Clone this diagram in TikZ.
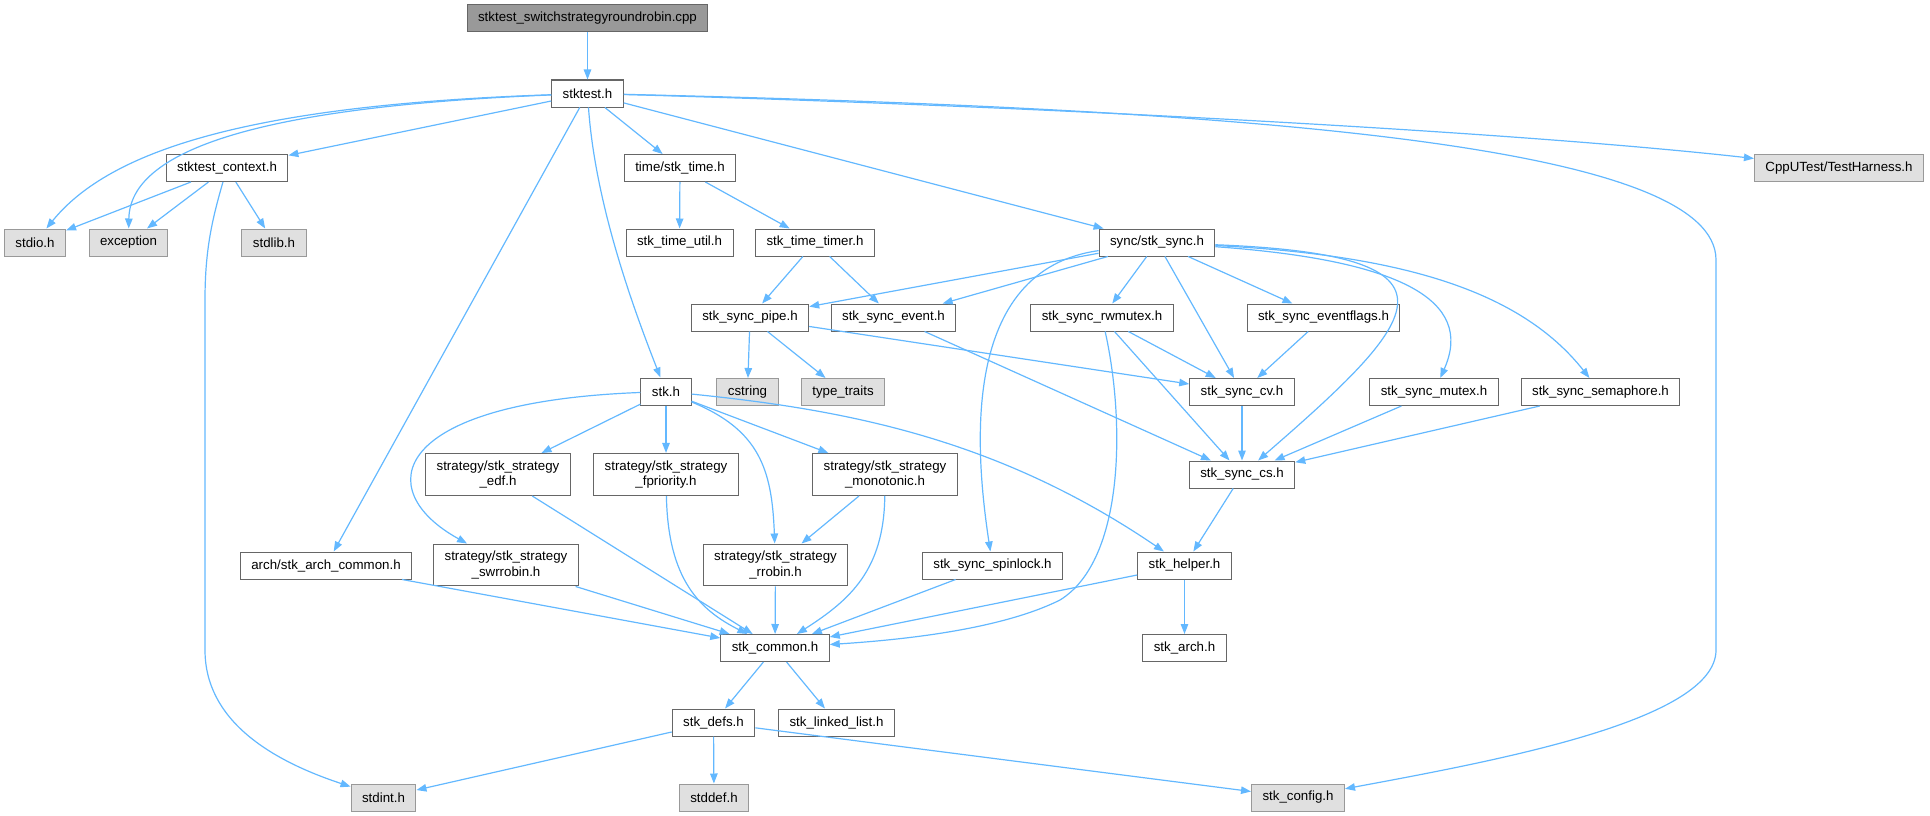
\documentclass[tikz,border=0pt]{standalone}
\usepackage{fontspec}
\setmainfont{Liberation Sans}
\usetikzlibrary{arrows.meta}
\definecolor{edgeblue}{HTML}{63B8FF}
\definecolor{boxline}{HTML}{666666}
\definecolor{sysline}{HTML}{999999}
\definecolor{sysfill}{HTML}{E0E0E0}
\definecolor{rootfill}{HTML}{999999}
\tikzset{
    hdr/.style = {draw=boxline,fill=white,line width=1pt,inner xsep=11pt,inner ysep=7pt,
        minimum height=27pt,align=center,font=\fontsize{13.3}{15.7}\selectfont},
    syshdr/.style = {hdr,draw=sysline,fill=sysfill},
    roothdr/.style = {hdr,fill=rootfill},
    inc/.style = {draw=edgeblue,line width=1.2pt,-{Triangle[length=10pt,width=7.5pt]}}
}
\begin{document}
\begin{tikzpicture}[x=1pt,y=-1pt]
        \useasboundingbox (0,0) rectangle (1930,816);
        % Files
        \node[roothdr] (root) at (587.5,18.5) {stktest\_switchstrategyroundrobin.cpp};
        \node[hdr] (stktest) at (587.5,93.5) {stktest.h};
        \node[hdr] (ctx) at (227,168) {stktest\_context.h};
        \node[hdr] (stktime) at (680,168) {time/stk\_time.h};
        \node[syshdr] (cpputest) at (1839,168) {CppUTest/TestHarness.h};
        \node[syshdr] (stdio) at (35,242.5) {stdio.h};
        \node[syshdr] (exception) at (128.5,242.5) {exception};
        \node[syshdr] (stdlib) at (274,242.5) {stdlib.h};
        \node[hdr] (timeutil) at (679.5,242.5) {stk\_time\_util.h};
        \node[hdr] (timer) at (815,242.5) {stk\_time\_timer.h};
        \node[hdr] (sync) at (1157,242.5) {sync/stk\_sync.h};
        \node[hdr] (pipe) at (750,317.5) {stk\_sync\_pipe.h};
        \node[hdr] (event) at (893.5,317.5) {stk\_sync\_event.h};
        \node[hdr] (rwmutex) at (1102,317.5) {stk\_sync\_rwmutex.h};
        \node[hdr] (evflags) at (1323.5,317.5) {stk\_sync\_eventflags.h};
        \node[hdr] (stk) at (666,391.5) {stk.h};
        \node[syshdr] (cstring) at (747.5,392) {cstring};
        \node[syshdr] (typetraits) at (843,392) {type\_traits};
        \node[hdr] (cv) at (1242,392) {stk\_sync\_cv.h};
        \node[hdr] (mutex) at (1434,392) {stk\_sync\_mutex.h};
        \node[hdr] (sema) at (1600.5,392) {stk\_sync\_semaphore.h};
        \node[hdr] (edf) at (498,474.5) {strategy/stk\_strategy\\\_edf.h};
        \node[hdr] (fprio) at (666,474.5) {strategy/stk\_strategy\\\_fpriority.h};
        \node[hdr] (mono) at (885,474.5) {strategy/stk\_strategy\\\_monotonic.h};
        \node[hdr] (cs) at (1242,474.5) {stk\_sync\_cs.h};
        \node[hdr] (archcommon) at (326,565.5) {arch/stk\_arch\_common.h};
        \node[hdr] (swrr) at (506,565) {strategy/stk\_strategy\\\_swrrobin.h};
        \node[hdr] (rrobin) at (775.5,565) {strategy/stk\_strategy\\\_rrobin.h};
        \node[hdr] (spinlock) at (992.5,565.5) {stk\_sync\_spinlock.h};
        \node[hdr] (helper) at (1184.5,565.5) {stk\_helper.h};
        \node[hdr] (common) at (775,648) {stk\_common.h};
        \node[hdr] (arch) at (1184.5,648) {stk\_arch.h};
        \node[hdr] (defs) at (713.5,722.5) {stk\_defs.h};
        \node[hdr] (linked) at (836.5,722.5) {stk\_linked\_list.h};
        \node[syshdr] (stdint) at (383.5,797.5) {stdint.h};
        \node[syshdr] (stddef) at (714,797.5) {stddef.h};
        \node[syshdr] (config) at (1298,797.5) {stk\_config.h};
        % Straight includes
        \foreach \src/\dest in {root/stktest,stktest/ctx,stktest/stktime,stktest/sync,stktest/archcommon,
            ctx/stdio,ctx/exception,ctx/stdlib,stktime/timeutil,stktime/timer,timer/pipe,timer/event,
            sync/pipe,sync/event,sync/rwmutex,sync/evflags,sync/cv,pipe/cstring,pipe/typetraits,pipe/cv,
            event/cs,rwmutex/cv,rwmutex/cs,evflags/cv,cv/cs,mutex/cs,sema/cs,cs/helper,
            stk/edf,stk/fprio,stk/mono,mono/rrobin,edf/common,swrr/common,archcommon/common,
            rrobin/common,spinlock/common,helper/common,helper/arch,
            common/defs,common/linked,defs/stdint,defs/stddef,defs/config}
            \draw[inc] (\src) to (\dest);
        % Curved includes
        \draw[inc] (stktest) .. controls (250,105) and (110,150) .. (stdio);
        \draw[inc] (stktest) .. controls (300,105) and (130,140) .. (exception);
        \draw[inc] (stktest) .. controls (1000,105) and (1500,130) .. (cpputest);
        \draw[inc] (stktest) .. controls (595,200) and (630,300) .. (stk);
        \draw[inc] (stktest) .. controls (1300,110) and (1716,150) .. (1716,260)
            -- (1716,650) .. controls (1716,720) and (1500,760) .. (config);
        \draw[inc] (ctx) .. controls (212,220) and (205,250) .. (205,300)
            -- (205,650) .. controls (205,720) and (270,760) .. (stdint);
        \draw[inc] (sync) .. controls (1480,255) and (1420,320) .. (cs);
        \draw[inc] (sync) .. controls (1400,260) and (1475,300) .. (mutex);
        \draw[inc] (sync) .. controls (1400,255) and (1520,290) .. (sema);
        \draw[inc] (sync) .. controls (960,270) and (975,450) .. (spinlock);
        \draw[inc] (rwmutex) .. controls (1125,420) and (1125,560) .. (1060,600)
            .. controls (1000,630) and (900,640) .. (common);
        \draw[inc] (stk) .. controls (390,402) and (370,490) .. (swrr);
        \draw[inc] (stk) .. controls (760,430) and (772,470) .. (rrobin);
        \draw[inc] (stk) .. controls (850,410) and (1000,440) .. (helper);
        \draw[inc] (fprio) .. controls (668,580) and (700,610) .. (common);
        \draw[inc] (mono) .. controls (884,570) and (850,600) .. (common);
\end{tikzpicture}
\end{document}
